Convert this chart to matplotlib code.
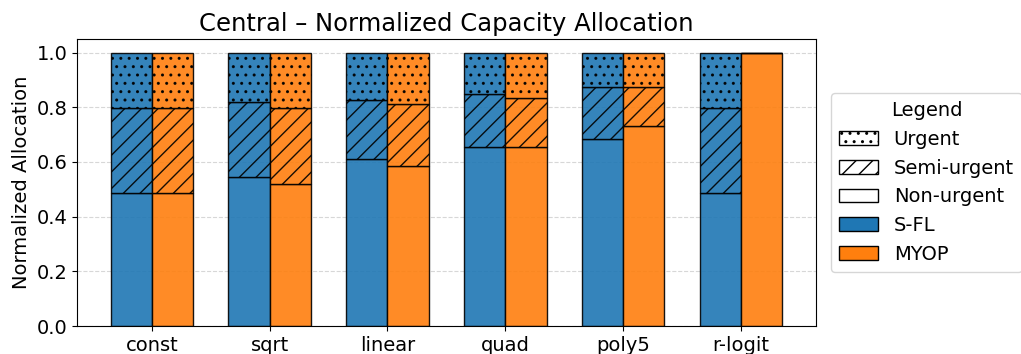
import numpy as np
import matplotlib
matplotlib.use("Agg")
import matplotlib.pyplot as plt
from matplotlib.patches import Patch

# policies on the x axis
policies = ['const', 'sqrt', 'linear', 'quad', 'poly5', 'r-logit']

# S-FL shares per urgency class
sfl_non = [0.487, 0.546, 0.610, 0.656, 0.684, 0.487]
sfl_semi = [0.312, 0.272, 0.216, 0.193, 0.192, 0.311]
sfl_urgent = [0.201, 0.182, 0.174, 0.151, 0.124, 0.202]

# MYOP shares per urgency class
myop_non = [0.487, 0.521, 0.584, 0.656, 0.732, 1.0]
myop_semi = [0.312, 0.278, 0.227, 0.179, 0.144, 0.0]
myop_urgent = [0.201, 0.201, 0.189, 0.165, 0.124, 0.0]

c_sfl = '#1f77b4'
c_myop = '#ff7f0e'


def stacked(ax, x, non, semi, urgent, color, width):
    non = np.array(non)
    semi = np.array(semi)
    urgent = np.array(urgent)
    kw = dict(width=width, color=color, edgecolor='black', linewidth=1, alpha=0.9)
    ax.bar(x, non, **kw)
    ax.bar(x, semi, bottom=non, hatch='//', **kw)
    ax.bar(x, urgent, bottom=non + semi, hatch='..', **kw)


fig = plt.figure(figsize=(10.21, 3.54), dpi=100)
ax = fig.add_axes([0.0754, 0.079, 0.7236, 0.811])

x = np.arange(len(policies))
w = 0.35
stacked(ax, x - w / 2, sfl_non, sfl_semi, sfl_urgent, c_sfl, w)
stacked(ax, x + w / 2, myop_non, myop_semi, myop_urgent, c_myop, w)

ax.set_xticks(x)
ax.set_xticklabels(policies, fontsize=14)
ax.tick_params(axis='y', labelsize=14)
ax.set_ylim(0, 1.05)
ax.set_ylabel('Normalized Allocation', fontsize=14)
ax.set_title('Central \u2013 Normalized Capacity Allocation', fontsize=17.5)
ax.grid(axis='y', linestyle='--', alpha=0.5)
ax.set_axisbelow(True)

handles = [
    Patch(facecolor='white', edgecolor='black', hatch='..', label='Urgent'),
    Patch(facecolor='white', edgecolor='black', hatch='//', label='Semi-urgent'),
    Patch(facecolor='white', edgecolor='black', label='Non-urgent'),
    Patch(facecolor=c_sfl, edgecolor='black', label='S-FL'),
    Patch(facecolor=c_myop, edgecolor='black', label='MYOP'),
]
ax.legend(handles=handles, title='Legend', loc='center left',
          bbox_to_anchor=(1.008, 0.5), fontsize=14, title_fontsize=14)

fig.savefig('out.png', dpi=100)
